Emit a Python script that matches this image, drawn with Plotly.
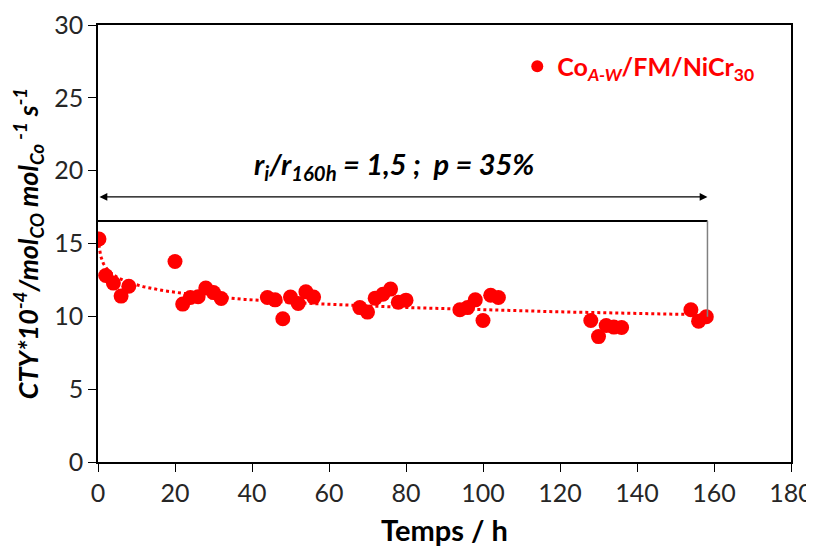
import numpy as np
import plotly.graph_objects as go

# Data
temps_h = [0.25, 2, 4, 6, 8, 20, 22, 24, 26, 28, 30, 32, 44, 46, 48, 50, 52, 54, 56,
           68, 70, 72, 74, 76, 78, 80, 94, 96, 98, 100, 102, 104,
           128, 130, 132, 134, 136, 154, 156, 158]
cty = [15.31, 12.80, 12.28, 11.39, 12.07, 13.76, 10.84, 11.29, 11.34, 11.95, 11.63, 11.22,
       11.29, 11.13, 9.83, 11.32, 10.88, 11.68, 11.32,
       10.60, 10.29, 11.25, 11.52, 11.87, 10.97, 11.11,
       10.45, 10.60, 11.13, 9.71, 11.45, 11.29,
       9.71, 8.61, 9.37, 9.26, 9.23, 10.45, 9.67, 9.97]
series_name = "Co<sub><i>A-W</i></sub>/FM/NiCr<sub>30</sub>"
annot_text = "<b><i>r<sub>i</sub>/r<sub>160h</sub> = 1,5 ;  p = 35%</i></b>"
x_ticks = [0, 20, 40, 60, 80, 100, 120, 140, 160, 180]
y_ticks = [0, 5, 10, 15, 20, 25, 30]
bracket_y = 16.55
arrow_y = 18.2
end_x = 158.3

# Logarithmic trendline (least squares on ln x), as in the spreadsheet
xa = np.array(temps_h, dtype=float)
ya = np.array(cty, dtype=float)
b, a = np.polyfit(np.log(xa), ya, 1)
xt = np.geomspace(xa.min(), xa.max(), 300)
yt = a + b * np.log(xt)

RED = "#FF0000"
FONT = "Lato"

fig = go.Figure()
fig.add_trace(go.Scatter(x=xt, y=yt, mode="lines",
                         line=dict(color=RED, width=3, dash="dot"),
                         showlegend=False, hoverinfo="skip"))
fig.add_trace(go.Scatter(x=temps_h, y=cty, mode="markers", name=series_name,
                         marker=dict(color=RED, size=15, line=dict(width=0))))

# bracket lines
fig.add_shape(type="line", x0=0, x1=end_x, y0=bracket_y, y1=bracket_y,
              line=dict(color="black", width=2))
fig.add_shape(type="line", x0=end_x, x1=end_x, y0=bracket_y, y1=cty[-1],
              line=dict(color="#808080", width=1.5))
# double arrow
fig.add_annotation(x=end_x, y=arrow_y, ax=0, ay=arrow_y, axref="x", ayref="y",
                   xref="x", yref="y", text="", showarrow=True,
                   arrowhead=2, arrowside="end+start", arrowsize=1.3,
                   arrowwidth=1.2, arrowcolor="black")
fig.add_annotation(x=77, y=20.35, xref="x", yref="y", text=annot_text,
                   showarrow=False, font=dict(family=FONT, size=29, color="black"))

fig.update_layout(
    width=806, height=540,
    margin=dict(l=90, r=23, t=17, b=86),
    paper_bgcolor="white", plot_bgcolor="white",
    font=dict(family=FONT, color="#262626"),
    showlegend=True,
    legend=dict(x=0.605, y=0.905, xanchor="left", yanchor="middle",
                bgcolor="rgba(0,0,0,0)",
                font=dict(family=FONT, size=25, color=RED, weight="bold"),
                itemsizing="constant"),
    xaxis=dict(range=[0, 180], tickvals=x_ticks, showgrid=False, zeroline=False,
               showline=True, linecolor="black", linewidth=1.5, mirror=True,
               ticks="outside", ticklen=8, tickcolor="black", automargin=False,
               tickfont=dict(family=FONT, size=25, color="#262626"),
               title=dict(text="Temps / h", standoff=15,
                          font=dict(family=FONT, size=29, color="black", weight="bold"))),
    yaxis=dict(range=[0, 30], tickvals=y_ticks, showgrid=False, zeroline=False,
               showline=True, linecolor="black", linewidth=1.5, mirror=True,
               ticks="outside", ticklen=8, tickcolor="black", automargin=False,
               tickfont=dict(family=FONT, size=25, color="#262626"),
               title=dict(text="CTY*10<sup>-4</sup>/mol<sub>CO</sub> mol<sub>Co</sub><sup> -1</sup> s<sup>-1</sup>",
                          standoff=11,
                          font=dict(family=FONT, size=27, color="black",
                                    weight="bold", style="italic"))),
)

fig.write_html("out.html")
